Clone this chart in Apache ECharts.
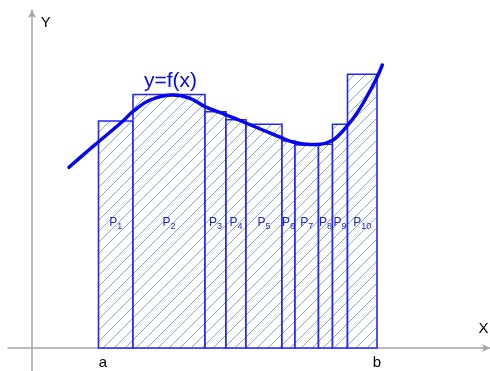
<!DOCTYPE html>
<html>
<head>
<meta charset="utf-8">
<script src="https://cdn.jsdelivr.net/npm/echarts@6/dist/echarts.min.js"></script>
<style>
html,body{margin:0;padding:0;background:#fff;}
#chart{width:490px;height:371px;}
</style>
</head>
<body>
<div id="chart"></div>
<script>
// Partition points of [a, b] (x values) and rectangle heights f(xi*)
const partition = [6.65, 10.1, 17.3, 19.4, 21.4, 25.0, 26.3, 28.65, 30.05, 31.55, 34.5];
const heights = [22.7, 25.35, 23.63, 22.83, 22.37, 20.7, 20.3, 20.37, 22.37, 27.37];
const subscripts = ['1', '2', '3', '4', '5', '6', '7', '8', '9', '10'];
// Curve y = f(x)
const curveX = [3.7, 5.8, 6.63, 9.1, 10.07, 11.8, 14.1, 15.8, 17.3, 19.3, 21.4, 23.3, 25.0, 26.3, 27.8, 28.8, 30.03, 30.8, 31.5, 32.3, 33.3, 34.47, 35.03];
const curveY = [18.07, 19.9, 20.6, 22.7, 23.63, 24.8, 25.3, 24.97, 24.13, 23.35, 22.5, 21.7, 21.0, 20.55, 20.35, 20.37, 20.75, 21.4, 22.2, 23.2, 24.8, 27.0, 28.3];
const endLabels = ['a', 'b'];
const curveLabel = 'y=f(x)';
const axisNames = ['X', 'Y'];

// hatch pattern
const tile = document.createElement('canvas');
tile.width = 11; tile.height = 11;
(function(){
  const c = tile.getContext('2d');
  c.fillStyle = '#ffffff';
  c.fillRect(0,0,11,11);
  c.strokeStyle = '#80acdc';
  c.lineWidth = 1;
  c.beginPath();
  c.moveTo(-1, 12); c.lineTo(12, -1);
  c.moveTo(-1, 1); c.lineTo(1, -1);
  c.moveTo(10, 12); c.lineTo(12, 10);
  c.stroke();
})();
const pattern = {image: tile, repeat: 'repeat'};

const rectData = heights.map((h, i) => [partition[i], partition[i + 1], h, i]);
const labelData = heights.map((h, i) => [(partition[i] + partition[i + 1]) / 2, i]);
const endData = [[partition[0], 0], [partition[partition.length - 1], 1]];
const FONT = '"Liberation Sans", Arial, sans-serif';
const LABEL_Y = 12.55;

const chart = echarts.init(document.getElementById('chart'), null, {renderer: 'canvas'});
const axisCommon = {
  type: 'value',
  axisLine: {show: true, onZero: true, symbol: ['none', 'arrow'], symbolSize: [6, 8], lineStyle: {color: '#a4a4a4', width: 1.5}},
  axisTick: {show: false},
  axisLabel: {show: false},
  splitLine: {show: false}
};
chart.setOption({
  animation: false,
  backgroundColor: '#ffffff',
  grid: {left: 8, right: 0, top: 10, bottom: 0},
  xAxis: Object.assign({}, axisCommon, {min: -2.4, max: 45.8}),
  yAxis: Object.assign({}, axisCommon, {min: -2.3, max: 33.8}),
  series: [
    {
      type: 'custom',
      data: rectData,
      clip: false,
      renderItem: function (params, api) {
        const x0 = api.value(0), x1 = api.value(1), h = api.value(2);
        const p = api.coord([x0, h]);
        const q = api.coord([x1, 0]);
        return {
          type: 'rect',
          shape: {x: p[0], y: p[1], width: q[0] - p[0], height: q[1] - p[1]},
          style: {fill: pattern, stroke: '#2424ff', lineWidth: 1.6}
        };
      },
      z: 2
    },
    {
      type: 'custom',
      data: labelData,
      clip: false,
      renderItem: function (params, api) {
        const cx = api.value(0);
        const i = api.value(1);
        const sub = subscripts[i];
        const pt = api.coord([cx, LABEL_Y]);
        const wP = 8, wS = 5 * sub.length;
        const left = pt[0] - (wP + wS) / 2;
        return {
          type: 'group',
          children: [
            {type: 'text', style: {text: 'P', x: left, y: pt[1], fill: '#2222dd', font: '12px ' + FONT, textAlign: 'left', textVerticalAlign: 'middle'}},
            {type: 'text', style: {text: sub, x: left + wP, y: pt[1] + 4, fill: '#2222dd', font: '9px ' + FONT, textAlign: 'left', textVerticalAlign: 'middle'}}
          ]
        };
      },
      z: 3
    },
    {
      type: 'custom',
      data: endData,
      clip: false,
      renderItem: function (params, api) {
        const x = api.value(0);
        const i = api.value(1);
        const pt = api.coord([x, 0]);
        const dx = i === 0 ? 4.5 : 0;
        return {type: 'text', style: {text: endLabels[i], x: pt[0] + dx, y: pt[1] + 15, fill: '#000', font: '15px ' + FONT, textAlign: 'center', textVerticalAlign: 'middle'}};
      },
      z: 3
    },
    {
      type: 'line',
      data: curveX.map((x, i) => [x, curveY[i]]),
      smooth: 0.35,
      showSymbol: false,
      lineStyle: {color: '#0505ee', width: 3.5, cap: 'round'},
      z: 4
    }
  ],
  graphic: [
    {type: 'text', x: 170.5, y: 81, style: {text: curveLabel, fill: '#0505ee', font: '21px ' + FONT, textAlign: 'center', textVerticalAlign: 'middle'}, z: 10},
    {type: 'text', x: 483.5, y: 329, style: {text: axisNames[0], fill: '#000', font: '15px ' + FONT, textAlign: 'center', textVerticalAlign: 'middle'}, z: 10},
    {type: 'text', x: 45.7, y: 23, style: {text: axisNames[1], fill: '#000', font: '15px ' + FONT, textAlign: 'center', textVerticalAlign: 'middle'}, z: 10}
  ]
});
</script>
</body>
</html>
